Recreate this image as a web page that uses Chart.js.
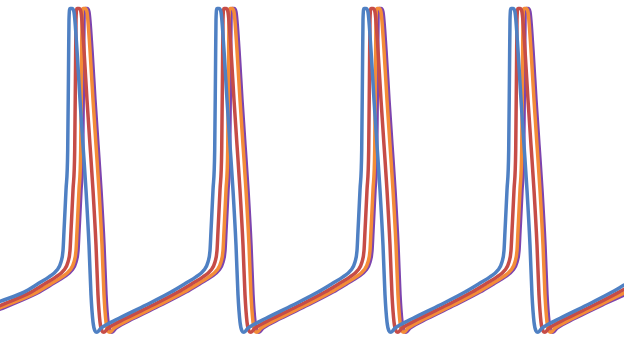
<!DOCTYPE html>
<html>
<head>
<meta charset="utf-8">
<script src="https://cdn.jsdelivr.net/npm/chart.js@4/dist/chart.umd.min.js"></script>
<style>
  body { margin: 0; background: #fff; }
  #wrap { width: 624px; height: 338px; }
</style>
</head>
<body>
<div id="wrap"><canvas id="canvas" width="624" height="338"></canvas></div>
<script>
// membrane potential traces, [time, mV]
const traceBlue = [[0,-67],[24,-63.7],[39,-60.5],[49,-58.3],[57,-55.9],[61,-53],[63,-49],[64,-42],[66,-27.5],[67.7,-13.3],[68.5,15],[69,33],[70,37],[72,37],[74,35.7],[77,22.2],[80,4.5],[83,-11.5],[86,-27.5],[89,-47],[91,-64.7],[93,-74.3],[95,-77.5],[97,-78],[101,-76.5],[119,-73],[146,-68.3],
  [171,-63.7],[186,-60.5],[196,-58.3],[204,-55.9],[208,-53],[210,-49],[211,-42],[213,-27.5],[214.7,-13.3],[215.5,15],[216,33],[217,37],[219,37],[221,35.7],[224,22.2],[227,4.5],[230,-11.5],[233,-27.5],[236,-47],[238,-64.7],[240,-74.3],[242,-77.5],[244,-78],[248,-76.5],[266,-73],[293,-68.3],
  [318,-63.7],[333,-60.5],[343,-58.3],[351,-55.9],[355,-53],[357,-49],[358,-42],[360,-27.5],[361.7,-13.3],[362.5,15],[363,33],[364,37],[366,37],[368,35.7],[371,22.2],[374,4.5],[377,-11.5],[380,-27.5],[383,-47],[385,-64.7],[387,-74.3],[389,-77.5],[391,-78],[395,-76.5],[413,-73],[440,-68.3],
  [465,-63.7],[480,-60.5],[490,-58.3],[498,-55.9],[502,-53],[504,-49],[505,-42],[507,-27.5],[508.7,-13.3],[509.5,15],[510,33],[511,37],[513,37],[515,35.7],[518,22.2],[521,4.5],[524,-11.5],[527,-27.5],[530,-47],[532,-64.7],[534,-74.3],[536,-77.5],[538,-78],[542,-76.5],[560,-73],[587,-68.3],[612,-63.7],[624,-61.2]];

const traceRed = [[0,-68.5],[31,-63.7],[46,-60.5],[56,-58.3],[64,-55.9],[68,-53],[70,-49],[71,-42],[73,-27.5],[74.7,-13.3],[75.5,15],[76,33],[77,37],[79,37],[81,35.7],[84,22.2],[87,4.5],[90,-11.5],[93,-27.5],[96,-47],[98,-64.7],[100,-74.3],[102,-77.5],[104,-78],[108,-76.5],[126,-73],[153,-68.3],
  [178,-63.7],[193,-60.5],[203,-58.3],[211,-55.9],[215,-53],[217,-49],[218,-42],[220,-27.5],[221.7,-13.3],[222.5,15],[223,33],[224,37],[226,37],[228,35.7],[231,22.2],[234,4.5],[237,-11.5],[240,-27.5],[243,-47],[245,-64.7],[247,-74.3],[249,-77.5],[251,-78],[255,-76.5],[273,-73],[300,-68.3],
  [325,-63.7],[340,-60.5],[350,-58.3],[358,-55.9],[362,-53],[364,-49],[365,-42],[367,-27.5],[368.7,-13.3],[369.5,15],[370,33],[371,37],[373,37],[375,35.7],[378,22.2],[381,4.5],[384,-11.5],[387,-27.5],[390,-47],[392,-64.7],[394,-74.3],[396,-77.5],[398,-78],[402,-76.5],[420,-73],[447,-68.3],
  [472,-63.7],[487,-60.5],[497,-58.3],[505,-55.9],[509,-53],[511,-49],[512,-42],[514,-27.5],[515.7,-13.3],[516.5,15],[517,33],[518,37],[520,37],[522,35.7],[525,22.2],[528,4.5],[531,-11.5],[534,-27.5],[537,-47],[539,-64.7],[541,-74.3],[543,-77.5],[545,-78],[549,-76.5],[567,-73],[594,-68.3],[619,-63.7],[624,-62.7]];

const traceOrange = [[0,-69.3],[37,-63.7],[52,-60.5],[62,-58.3],[70,-55.9],[74,-53],[76,-49],[77,-42],[79,-27.5],[80.7,-13.3],[81.5,15],[82,33],[83,37],[85,37],[87,35.7],[90,22.2],[93,4.5],[96,-11.5],[99,-27.5],[102,-47],[104,-64.7],[106,-74.3],[108,-77.5],[110,-78],[114,-76.5],[132,-73],[159,-68.3],
  [184,-63.7],[199,-60.5],[209,-58.3],[217,-55.9],[221,-53],[223,-49],[224,-42],[226,-27.5],[227.7,-13.3],[228.5,15],[229,33],[230,37],[232,37],[234,35.7],[237,22.2],[240,4.5],[243,-11.5],[246,-27.5],[249,-47],[251,-64.7],[253,-74.3],[255,-77.5],[257,-78],[261,-76.5],[279,-73],[306,-68.3],
  [331,-63.7],[346,-60.5],[356,-58.3],[364,-55.9],[368,-53],[370,-49],[371,-42],[373,-27.5],[374.7,-13.3],[375.5,15],[376,33],[377,37],[379,37],[381,35.7],[384,22.2],[387,4.5],[390,-11.5],[393,-27.5],[396,-47],[398,-64.7],[400,-74.3],[402,-77.5],[404,-78],[408,-76.5],[426,-73],[453,-68.3],
  [478,-63.7],[493,-60.5],[503,-58.3],[511,-55.9],[515,-53],[517,-49],[518,-42],[520,-27.5],[521.7,-13.3],[522.5,15],[523,33],[524,37],[526,37],[528,35.7],[531,22.2],[534,4.5],[537,-11.5],[540,-27.5],[543,-47],[545,-64.7],[547,-74.3],[549,-77.5],[551,-78],[555,-76.5],[573,-73],[600,-68.3],[624,-64]];

const tracePurple = [[0,-69.8],[39,-63.7],[54,-60.5],[64,-58.3],[72,-55.9],[76,-53],[78,-49],[79,-42],[81,-27.5],[82.7,-13.3],[83.5,15],[84,33],[85,37],[87,37],[89,35.7],[92,22.2],[95,4.5],[98,-11.5],[101,-27.5],[104,-47],[106,-64.7],[108,-74.3],[110,-77.5],[112,-78],[116,-76.5],[134,-73],[161,-68.3],
  [186,-63.7],[201,-60.5],[211,-58.3],[219,-55.9],[223,-53],[225,-49],[226,-42],[228,-27.5],[229.7,-13.3],[230.5,15],[231,33],[232,37],[234,37],[236,35.7],[239,22.2],[242,4.5],[245,-11.5],[248,-27.5],[251,-47],[253,-64.7],[255,-74.3],[257,-77.5],[259,-78],[263,-76.5],[281,-73],[308,-68.3],
  [333,-63.7],[348,-60.5],[358,-58.3],[366,-55.9],[370,-53],[372,-49],[373,-42],[375,-27.5],[376.7,-13.3],[377.5,15],[378,33],[379,37],[381,37],[383,35.7],[386,22.2],[389,4.5],[392,-11.5],[395,-27.5],[398,-47],[400,-64.7],[402,-74.3],[404,-77.5],[406,-78],[410,-76.5],[428,-73],[455,-68.3],
  [480,-63.7],[495,-60.5],[505,-58.3],[513,-55.9],[517,-53],[519,-49],[520,-42],[522,-27.5],[523.7,-13.3],[524.5,15],[525,33],[526,37],[528,37],[530,35.7],[533,22.2],[536,4.5],[539,-11.5],[542,-27.5],[545,-47],[547,-64.7],[549,-74.3],[551,-77.5],[553,-78],[557,-76.5],[575,-73],[602,-68.3],[624,-64.8]];

const traceNames = ['blue', 'red', 'orange', 'purple'];
const traceColors = ['#4f80c3', '#c64c47', '#f48c38', '#7d44ae'];
const traces = [traceBlue, traceRed, traceOrange, tracePurple];

const ctx = document.getElementById('canvas').getContext('2d');

// first dataset ends up drawn on top in chart.js
const datasets = traces.map((tr, i) => ({
  label: traceNames[i],
  data: tr.map(p => ({ x: p[0], y: p[1] })),
  borderColor: traceColors[i],
  borderWidth: 3.5,
  pointRadius: 0,
  fill: false,
  cubicInterpolationMode: 'monotone',
  borderJoinStyle: 'round',
  borderCapStyle: 'round'
}));

let chart = new Chart(ctx, {
  type: 'line',
  data: { datasets: datasets },
  options: {
    responsive: false,
    animation: false,
    layout: { padding: 0 },
    plugins: { legend: { display: false }, tooltip: { enabled: false } },
    scales: {
      x: { type: 'linear', min: 0, max: 624, display: false },
      y: { min: -80, max: 40, display: false }
    }
  }
});
</script>
</body>
</html>
